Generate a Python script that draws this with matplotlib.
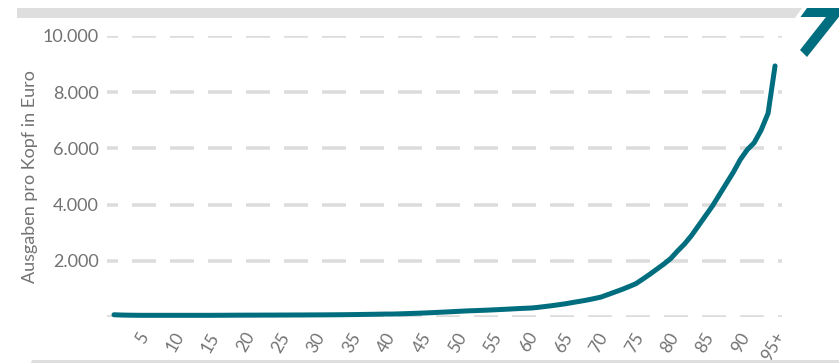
import numpy as np
import matplotlib.pyplot as plt
from matplotlib.patches import Polygon

# Ausgaben pro Kopf nach Alter
alter = np.arange(0, 96)
ausgaben = [
    80, 70, 65, 62, 60, 60, 60, 60, 60, 60,
    60, 60, 60, 60, 60, 62, 62, 64, 65, 66,
    66, 67, 68, 68, 70, 70, 72, 72, 74, 75,
    76, 78, 80, 82, 85, 88, 92, 96, 100, 105,
    105, 112, 120, 128, 137, 147, 158, 170, 182, 195,
    208, 220, 228, 238, 248, 260, 272, 285, 298, 310,
    320, 345, 375, 405, 440, 475, 520, 560, 605, 655,
    710, 800, 890, 980, 1080, 1184, 1350, 1520, 1700, 1880,
    2080, 2350, 2600, 2900, 3250, 3600, 3950, 4350, 4750, 5150,
    5600, 5950, 6200, 6650, 7250, 8935,
]
xtick_alter = list(range(5, 96, 5))
xtick_labels = [str(a) for a in xtick_alter[:-1]] + ['95+']
yticks = [2000, 4000, 6000, 8000, 10000]
ytick_labels = ['2.000', '4.000', '6.000', '8.000', '10.000']

W, H = 839, 363
teal = '#006e7f'
grau = '#727272'

plt.rcParams['font.family'] = ['Lato', 'DejaVu Sans']
plt.rcParams['lines.scale_dashes'] = False

fig = plt.figure(figsize=(W / 100, H / 100), dpi=100)
ax = fig.add_axes([107 / W, 1 - 317 / H, (782 - 107) / W, (317 - 36) / H])

px = 0.72  # Punkte pro Pixel
for y in [0] + yticks:
    ax.axhline(y, color='#dcdcdc', lw=3.5 * px, zorder=1,
               linestyle=(13 * px, (24 * px, 14 * px)))

ax.plot(alter, ausgaben, color=teal, lw=5 * px, solid_capstyle='round',
        solid_joinstyle='round', clip_on=False, zorder=3)

ax.set_xlim(-1, 96)
ax.set_ylim(0, 10000)
for s in ax.spines.values():
    s.set_visible(False)

ax.set_yticks(yticks)
ax.set_yticklabels(ytick_labels, fontsize=13, color=grau)
# Beschriftungen im Original etwas weiter gespreizt als die Datenpunkte
ax.set_xticks([4.4 + (a - 5) * 1.0159 for a in xtick_alter])
ax.set_xticklabels(xtick_labels, fontsize=12.5, color=grau, rotation=60,
                   ha='right', va='center', rotation_mode='anchor')
ax.tick_params(axis='y', length=0, pad=6)
ax.tick_params(axis='x', length=0, pad=12)
ax.set_ylabel('Ausgaben pro Kopf in Euro', fontsize=13, color=grau, labelpad=3)

# graue Balken oben und unten, Logo-Form oben rechts
def fig_poly(pts, color):
    p = Polygon([(x / W, 1 - y / H) for x, y in pts], closed=True,
                facecolor=color, edgecolor='none', transform=fig.transFigure)
    fig.patches.append(p)

fig_poly([(17, 8), (802, 8), (795, 18), (17, 18)], '#dedede')
fig_poly([(32, 360), (845, 360), (845, 370), (29, 370)], '#dedede')
fig_poly([(807, 8), (846, 8), (807, 57), (800, 50), (826, 17), (800.5, 17)], teal)

fig.savefig('out.png', dpi=100)
